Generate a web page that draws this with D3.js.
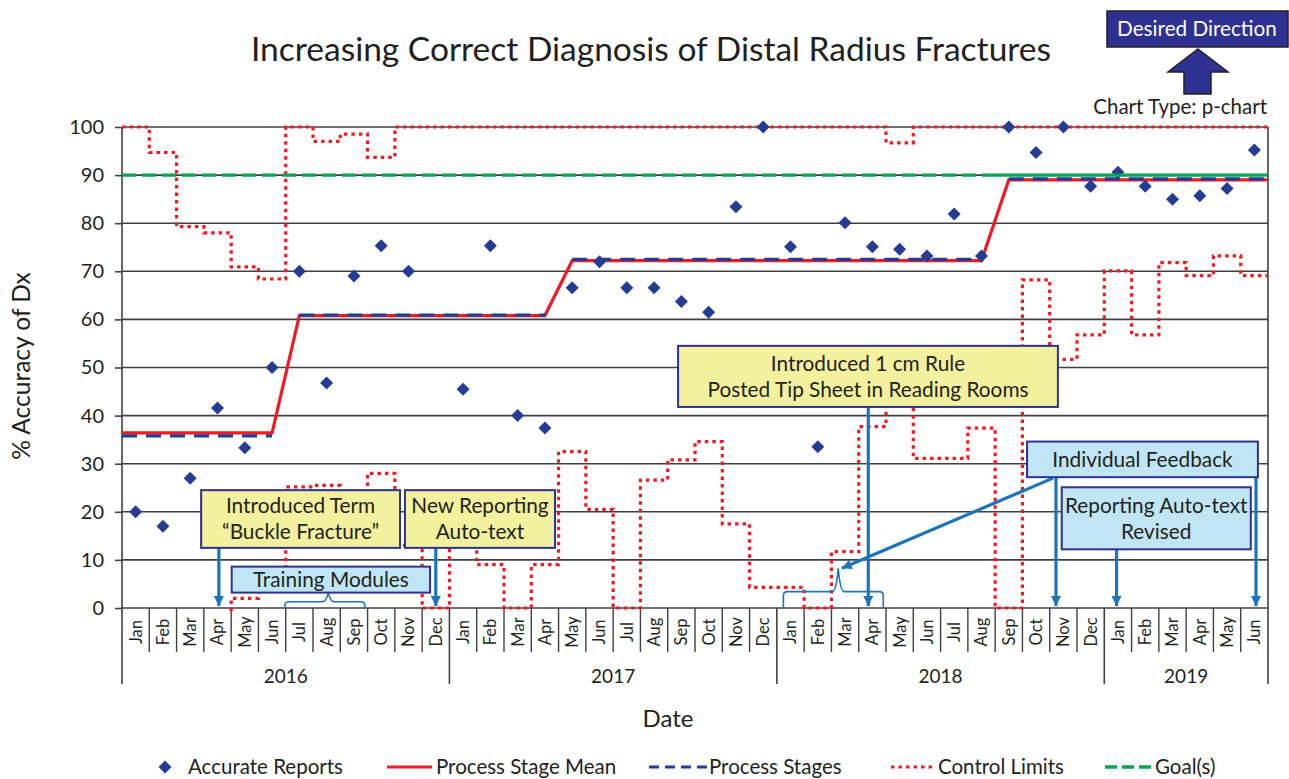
<!DOCTYPE html>
<html><head><meta charset="utf-8">
<script src="https://cdn.jsdelivr.net/npm/d3@7"></script>
<style>
body{margin:0;background:#fff}
svg{display:block}
text{font-family:Lato,"Open Sans",sans-serif;fill:#231f20}
</style>
</head><body>
<svg id="c" width="1289" height="779"></svg>
<script>
// ---------------- DATA ----------------
const monthNames = ["Jan","Feb","Mar","Apr","May","Jun","Jul","Aug","Sep","Oct","Nov","Dec"];
const years = ["2016","2017","2018","2019"];
const monthsPerYear = [12,12,12,6];
const yTicks = [0,10,20,30,40,50,60,70,80,90,100];

// Accurate reports (% accuracy per month), Jan 2016 .. Jun 2019
const accuracy = [
  20, 17, 27, 41.6, 33.3, 50, 70, 46.8, 69, 75.3, 70, null,
  45.5, 75.3, 40, 37.4, 66.6, 72, 66.6, 66.6, 63.7, 61.5, 83.4, 100,
  75.1, 33.5, 80.1, 75.1, 74.6, 73.2, 81.9, 73.2, 100, 94.7, 100, 87.7,
  90.6, 87.7, 85, 85.7, 87.2, 95.2
];
// Process stage mean (red line)
const stageMean = [
  36.4, 36.4, 36.4, 36.4, 36.4, 36.4, 60.8, 60.8, 60.8, 60.8, 60.8, 60.8,
  60.8, 60.8, 60.8, 60.8, 72.2, 72.2, 72.2, 72.2, 72.2, 72.2, 72.2, 72.2,
  72.2, 72.2, 72.2, 72.2, 72.2, 72.2, 72.2, 72.2, 89, 89, 89, 89,
  89, 89, 89, 89, 89, 89
];
// Process stages (blue dashed)
const processStage = [
  35.8, 35.8, 35.8, 35.8, 35.8, 35.8, 60.9, 60.9, 60.9, 60.9, 60.9, 60.9,
  60.9, 60.9, 60.9, 60.9, 72.5, 72.5, 72.5, 72.5, 72.5, 72.5, 72.5, 72.5,
  72.5, 72.5, 72.5, 72.5, 72.5, 72.5, 72.5, 72.5, 89.2, 89.2, 89.2, 89.2,
  89.2, 89.2, 89.2, 89.2, 89.2, 89.2
];
const stageId = [
  1,1,1,1,1,1,2,2,2,2,2,2,
  2,2,2,2,3,3,3,3,3,3,3,3,
  3,3,3,3,3,3,3,3,4,4,4,4,
  4,4,4,4,4,4
];
// Upper control limit
const ucl = [
  100, 94.7, 79.3, 78, 70.9, 68.4, 100, 97, 98.5, 93.7, 100, 100,
  100, 100, 100, 100, 100, 100, 100, 100, 100, 100, 100, 100,
  100, 100, 100, 100, 96.7, 100, 100, 100, 100, 100, 100, 100,
  100, 100, 100, 100, 100, 100
];
// Lower control limit (negative values fall below the axis)
const lcl = [
  -3, -3, -3, -3, 2, 5, 25.2, 25.5, 20, 28, 13, 0,
  16, 9, 0, 9, 32.5, 20.5, 0, 26.6, 30.8, 34.6, 17.5, 4.3,
  4.3, 0, 11.7, 37.7, 45, 31.1, 31.1, 37.4, 0, 68.2, 51.7, 56.8,
  70.1, 56.8, 71.8, 69.1, 73.2, 69.1
];
// Goal
const goal = [
  90,90,90,90,90,90,90,90,90,90,90,90,
  90,90,90,90,90,90,90,90,90,90,90,90,
  90,90,90,90,90,90,90,90,90,90,90,90,
  90,90,90,90,90,90
];

// ---------------- SETUP ----------------
const N = accuracy.length;
const monthLabels = [];
monthsPerYear.forEach(c => { for (let k = 0; k < c; k++) monthLabels.push(monthNames[k]); });

const svg = d3.select("#c");
const P = {l:122, r:1268, t:127, b:608};
const x = d3.scaleLinear().domain([0, N]).range([P.l, P.r]);
const band = d3.scaleBand().domain(d3.range(N)).range([P.l, P.r]).padding(0);
const y = d3.scaleLinear().domain([0, 100]).range([P.b, P.t]);

const RED = "#ed1c24", NAVY = "#253c94", GREEN = "#00a651", ARROW = "#1b75bc",
      BORDER = "#2e3192", YELLOW = "#f3f09e", LBLUE = "#c0e6f6", GRID = "#404040";

// title
svg.append("text").attr("x", 651).attr("y", 61).attr("text-anchor","middle")
  .style("font-size","33.5px").text("Increasing Correct Diagnosis of Distal Radius Fractures");

// gridlines
svg.append("g").selectAll("line").data(yTicks).join("line")
  .attr("x1", P.l).attr("x2", P.r).attr("y1", d => y(d)).attr("y2", d => y(d))
  .attr("stroke", GRID).attr("stroke-width", 1.6);

// y axis
const ya = svg.append("g").attr("transform", `translate(${P.l},0)`)
  .call(d3.axisLeft(y).tickValues(yTicks).tickSize(7).tickPadding(11));
ya.select(".domain").remove();
ya.selectAll(".tick line").attr("stroke", GRID).attr("stroke-width", 1.6);
ya.selectAll(".tick text").style("font-size","20px").style("font-family","Lato").attr("fill","#231f20");

// y label
svg.append("text").attr("transform","translate(30,366) rotate(-90)").attr("text-anchor","middle")
  .style("font-size","24.5px").text("% Accuracy of Dx");

// x axis month labels
const xa = svg.append("g").attr("transform", `translate(0,${P.b})`)
  .call(d3.axisBottom(band).tickSize(0).tickFormat(i => monthLabels[i]));
xa.select(".domain").remove();
xa.selectAll(".tick text").attr("y", 0).attr("x", 0).attr("dy", "0.36em")
  .attr("transform", "translate(0,24) rotate(-90)").style("text-anchor","middle")
  .style("font-size","16.5px").style("font-family","Lato").attr("fill","#231f20");

// separators
const yearStarts = [0]; monthsPerYear.forEach((c, k) => yearStarts.push(yearStarts[k] + c));
svg.append("g").selectAll("line").data(d3.range(1, N).filter(i => !yearStarts.includes(i))).join("line")
  .attr("x1", d => x(d)).attr("x2", d => x(d)).attr("y1", P.b).attr("y2", 652)
  .attr("stroke", GRID).attr("stroke-width", 1.4);
svg.append("g").selectAll("line").data(yearStarts).join("line")
  .attr("x1", d => x(d)).attr("x2", d => x(d)).attr("y1", d => (d === 0 || d === N) ? P.t : P.b).attr("y2", 684)
  .attr("stroke", GRID).attr("stroke-width", 1.6);
svg.append("g").selectAll("text").data(years).join("text")
  .attr("x", (d, k) => x((yearStarts[k] + yearStarts[k+1]) / 2)).attr("y", 683)
  .attr("text-anchor","middle").style("font-size","19px").text(d => d);

svg.append("text").attr("x", 668).attr("y", 727).attr("text-anchor","middle")
  .style("font-size","24px").text("Date");

// clip
svg.append("clipPath").attr("id","plotclip").append("rect")
  .attr("x", P.l).attr("y", y(100) - 3).attr("width", P.r - P.l).attr("height", y(0) - y(100) + 6);

const stepLine = d3.line().x(d => x(d[0])).y(d => y(d[1])).curve(d3.curveStepAfter);
const stepData = arr => arr.map((v, i) => [i, v]).concat([[N, arr[N - 1]]]);

// control limits
const cl = svg.append("g").attr("clip-path","url(#plotclip)");
[ucl, lcl].forEach(arr => {
  cl.append("path").attr("d", stepLine(stepData(arr))).attr("fill","none")
    .attr("stroke", RED).attr("stroke-width", 3.2).attr("stroke-dasharray","3.5,4");
});

// process stage mean
const lin = d3.line().x(d => x(d[0])).y(d => y(d[1]));
const meanPts = [[0, stageMean[0]]].concat(stageMean.map((v, i) => [i + 0.5, v])).concat([[N, stageMean[N - 1]]]);
svg.append("path").attr("d", lin(meanPts)).attr("fill","none").attr("stroke", RED).attr("stroke-width", 3.2);

// process stages
const stages = d3.groups(d3.range(N), i => stageId[i]);
stages.forEach(([sid, idx]) => {
  const f = idx[0], l = idx[idx.length - 1];
  const pts = [[f === 0 ? 0 : f + 0.5, processStage[f]], [l === N - 1 ? N : l + 0.5, processStage[l]]];
  svg.append("path").attr("d", lin(pts)).attr("fill","none").attr("stroke", NAVY)
    .attr("stroke-width", 3.2).attr("stroke-dasharray","15,9");
});

// diamonds
svg.append("g").selectAll("path").data(accuracy.map((v, i) => [i, v]).filter(d => d[1] != null)).join("path")
  .attr("d", "M0,-6.5L6.5,0L0,6.5L-6.5,0Z")
  .attr("transform", d => `translate(${band(d[0]) + band.bandwidth() / 2},${y(d[1])})`)
  .attr("fill", NAVY);

// goal
const goalSplit = 32;
svg.append("path").attr("d", lin([[0, goal[0]], [goalSplit, goal[goalSplit - 1]]]))
  .attr("fill","none").attr("stroke", GREEN).attr("stroke-width", 3.4).attr("stroke-dasharray","14,6");
svg.append("path").attr("d", lin([[goalSplit, goal[goalSplit]], [N, goal[N - 1]]]))
  .attr("fill","none").attr("stroke", GREEN).attr("stroke-width", 3.4);

// ---------------- ANNOTATIONS ----------------
const defs = svg.append("defs");
defs.append("marker").attr("id","ah").attr("viewBox","0 0 10 10").attr("refX",10).attr("refY",5)
  .attr("markerWidth",10).attr("markerHeight",10).attr("markerUnits","userSpaceOnUse").attr("orient","auto")
  .append("path").attr("d","M0,0L10,5L0,10Z").attr("fill", ARROW);

// braces (month index / value units)
const braces = [
  {x0: 5.97, x1: 8.9, top: 1.3, px: 7.56, py: 3.2},
  {x0: 24.24, x1: 27.9, top: 3.4, px: 26.25, py: 8.25}
];
braces.forEach(b => {
  const X0 = x(b.x0), X1 = x(b.x1), T = y(b.top), B = y(0), PX = x(b.px), PY = y(b.py);
  const d = `M${X0},${B}L${X0},${T + 4}Q${X0},${T} ${X0 + 4},${T}L${PX - 6},${T}Q${PX - 2},${T} ${PX},${PY}` +
            `Q${PX + 2},${T} ${PX + 6},${T}L${X1 - 4},${T}Q${X1},${T} ${X1},${T + 4}L${X1},${B}`;
  svg.append("path").attr("d", d).attr("fill","none").attr("stroke", ARROW).attr("stroke-width", 1.6);
});

// arrows
const arrows = [
  {x0: 3.55, y0: 12.5, x1: 3.55, y1: 0.4},
  {x0: 11.5, y0: 12.5, x1: 11.5, y1: 0.4},
  {x0: 27.35, y0: 41.8, x1: 27.35, y1: 0.4},
  {x0: 34.23, y0: 27.2, x1: 34.23, y1: 0.4},
  {x0: 41.56, y0: 27.2, x1: 41.56, y1: 0.4},
  {x0: 36.45, y0: 12.2, x1: 36.45, y1: 0.4},
  {x0: 34.12, y0: 27.0, x1: 26.38, y1: 8.25}
];
svg.append("g").selectAll("line").data(arrows).join("line")
  .attr("x1", d => x(d.x0)).attr("y1", d => y(d.y0)).attr("x2", d => x(d.x1)).attr("y2", d => y(d.y1))
  .attr("stroke", ARROW).attr("stroke-width", 3.2).attr("marker-end","url(#ah)");

// boxes
const boxes = [
  {x0: 2.9, x1: 10.19, y0: 24.5, y1: 12.5, fill: YELLOW, lines: ["Introduced Term", "\u201CBuckle Fracture\u201D"]},
  {x0: 4.02, x1: 11.29, y0: 8.6, y1: 3.2, fill: LBLUE, lines: ["Training Modules"]},
  {x0: 10.37, x1: 15.87, y0: 24.5, y1: 12.5, fill: YELLOW, lines: ["New Reporting", "Auto-text"]},
  {x0: 20.38, x1: 34.3, y0: 54.5, y1: 41.8, fill: YELLOW, lines: ["Introduced 1 cm Rule", "Posted Tip Sheet in Reading Rooms"]},
  {x0: 33.17, x1: 41.63, y0: 34.6, y1: 27.2, fill: LBLUE, lines: ["Individual Feedback"]},
  {x0: 34.44, x1: 41.37, y0: 25.1, y1: 12.2, fill: LBLUE, lines: ["Reporting Auto-text", "Revised"]}
];
boxes.forEach(b => {
  const X0 = x(b.x0), X1 = x(b.x1), Y0 = y(b.y0), Y1 = y(b.y1);
  svg.append("rect").attr("x", X0).attr("y", Y0).attr("width", X1 - X0).attr("height", Y1 - Y0)
    .attr("fill", b.fill).attr("stroke", BORDER).attr("stroke-width", 2);
  const cx = (X0 + X1) / 2, cy = (Y0 + Y1) / 2, lh = 26;
  b.lines.forEach((t, k) => {
    svg.append("text").attr("x", cx).attr("y", cy + (k - (b.lines.length - 1) / 2) * lh)
      .attr("dy", "0.35em").attr("text-anchor","middle").style("font-size","20.8px").text(t);
  });
});

// desired direction
svg.append("rect").attr("x", 1107).attr("y", 11).attr("width", 181).attr("height", 36)
  .attr("fill", BORDER).attr("stroke", "#231f20").attr("stroke-width", 1.5);
svg.append("text").attr("x", 1197).attr("y", 29).attr("dy","0.35em").attr("text-anchor","middle")
  .style("font-size","20.7px").style("fill","#fff").text("Desired Direction");
svg.append("path").attr("d","M1198,49L1228,72L1211,72L1211,94L1184,94L1184,72L1168,72Z")
  .attr("fill", BORDER).attr("stroke","#231f20").attr("stroke-width", 1.5);
svg.append("text").attr("x", 1267).attr("y", 114).attr("text-anchor","end")
  .style("font-size","20.5px").text("Chart Type: p-chart");

// legend
const LY = 767;
const lg = svg.append("g");
lg.append("path").attr("d","M0,-6.5L6.5,0L0,6.5L-6.5,0Z").attr("transform",`translate(165,${LY})`).attr("fill", NAVY);
lg.append("line").attr("x1",387).attr("x2",432).attr("y1",LY).attr("y2",LY).attr("stroke",RED).attr("stroke-width",3.2);
lg.append("line").attr("x1",649).attr("x2",707).attr("y1",LY).attr("y2",LY).attr("stroke",NAVY).attr("stroke-width",3.2).attr("stroke-dasharray","10,6");
lg.append("line").attr("x1",891).attr("x2",935).attr("y1",LY).attr("y2",LY).attr("stroke",RED).attr("stroke-width",3.2).attr("stroke-dasharray","3.5,4");
lg.append("line").attr("x1",1105).attr("x2",1151).attr("y1",LY).attr("y2",LY).attr("stroke",GREEN).attr("stroke-width",3.4).attr("stroke-dasharray","12,5");
const legendText = [[188, "Accurate Reports"], [436, "Process Stage Mean"], [709, "Process Stages"], [938, "Control Limits"], [1155, "Goal(s)"]];
lg.selectAll("text").data(legendText).join("text").attr("x", d => d[0]).attr("y", LY).attr("dy","0.35em")
  .style("font-size","20.5px").text(d => d[1]);
</script>
</body></html>
